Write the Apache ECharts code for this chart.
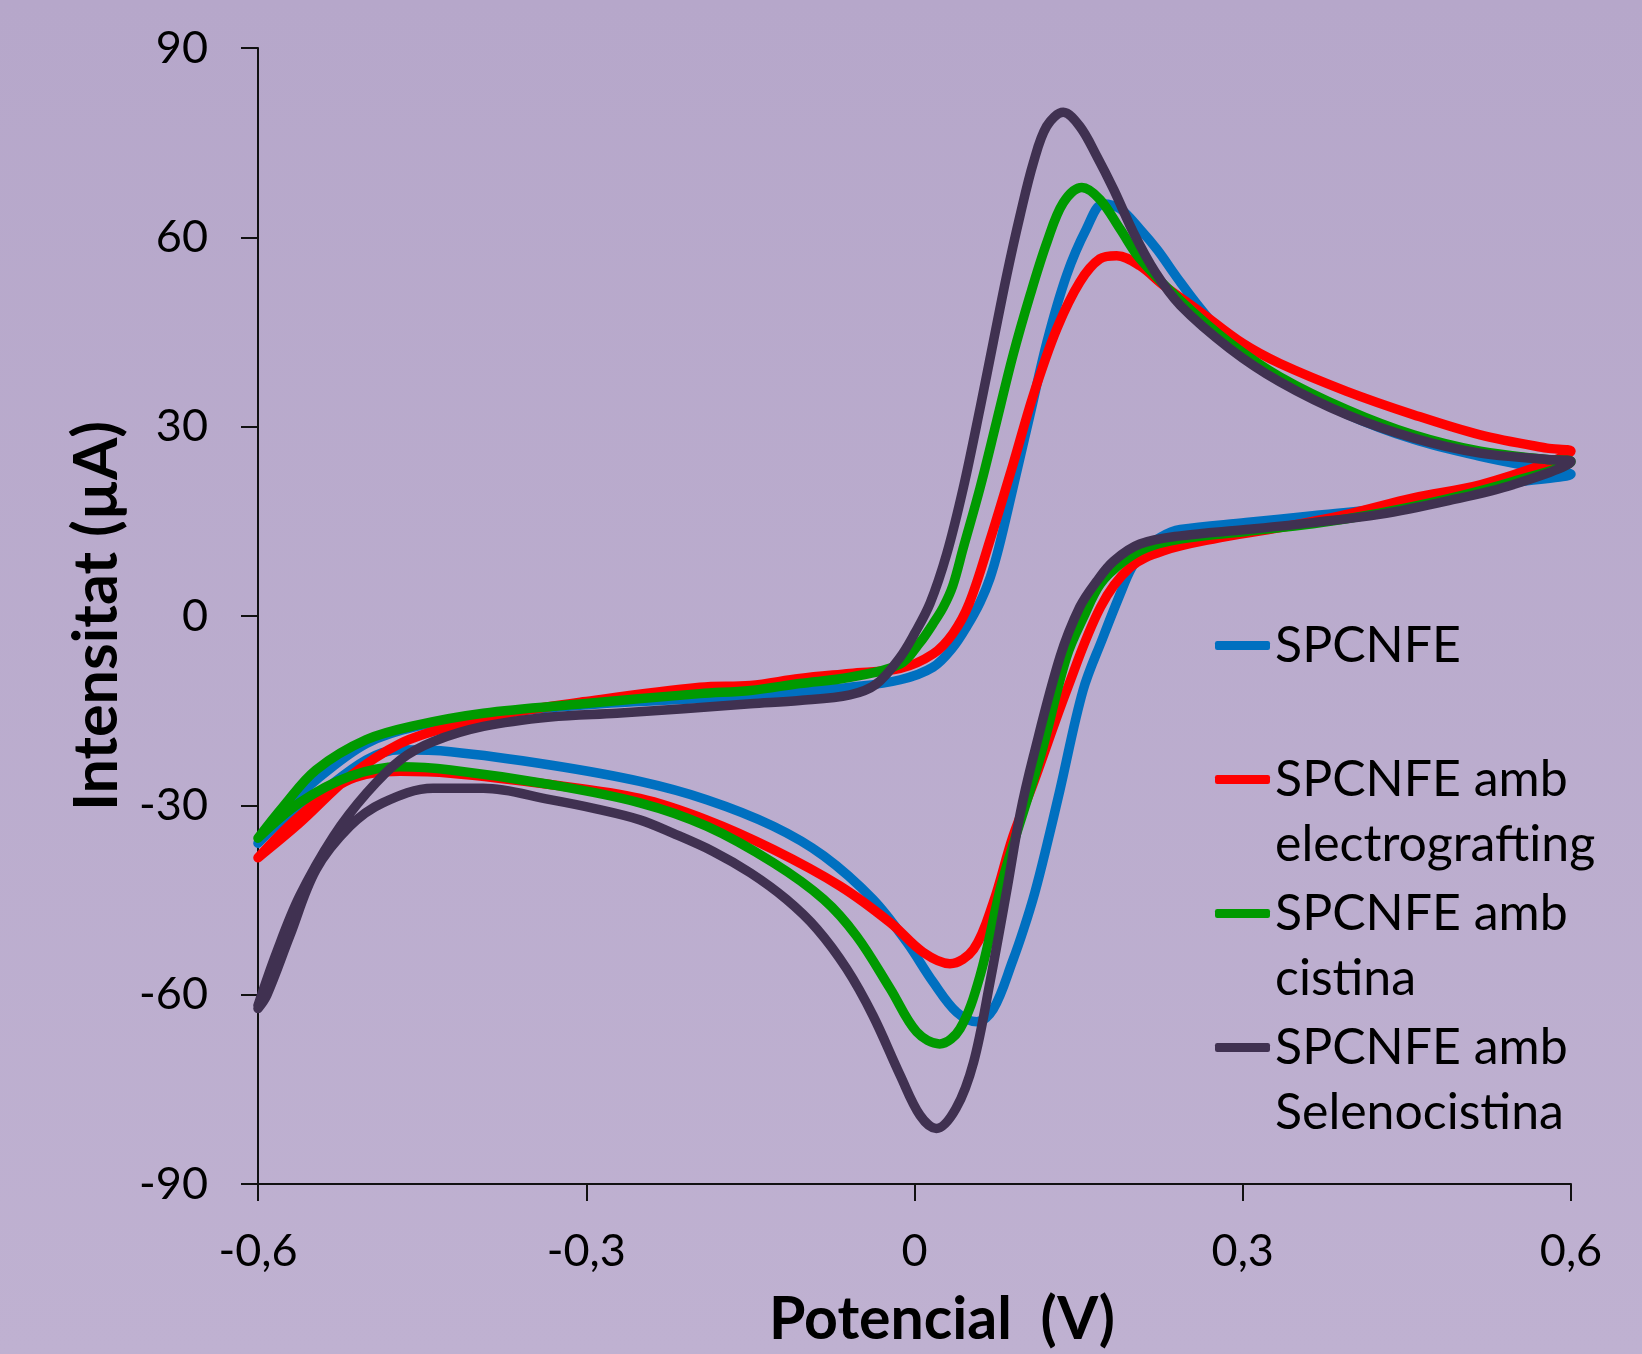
<!DOCTYPE html>
<html><head><meta charset="utf-8">
<script src="https://cdn.jsdelivr.net/npm/echarts@6/dist/echarts.min.js"></script>
<style>html,body{margin:0;padding:0;background:#B8A9CB}#c{width:1642px;height:1354px}</style>
</head><body><div id="c"></div><script>
// Potential (V), current (µA) — loop: forward scan then reverse scan
const seriesNames = ['SPCNFE', 'SPCNFE amb electrografting', 'SPCNFE amb cistina', 'SPCNFE amb Selenocistina'];
const legendLabels = ['\nSPCNFE\n', '\nSPCNFE amb\nelectrografting', '\nSPCNFE amb\ncistina', '\nSPCNFE amb\nSelenocistina'];
const colors = ['#0070C0', '#FF0000', '#009A00', '#403151'];

const spcnfe = [
  [-0.6,-36.0],[-0.577,-31.0],[-0.547,-26.0],[-0.501,-20.2],[-0.455,-17.5],[-0.394,-15.7],[-0.303,-14.1],[-0.2,-13.1],
  [-0.150,-12.8],[-0.105,-12.0],[-0.059,-11.3],[-0.013,-10.1],[0.017,-8.1],[0.035,-5.0],[0.048,-1.6],[0.060,2.2],
  [0.069,6.0],[0.077,10.8],[0.090,20.3],[0.1056,31.9],[0.121,43.4],[0.139,54.0],[0.157,61.3],[0.1725,65.3],[0.188,64.5],
  [0.206,61.3],[0.222,58.0],[0.240,53.6],[0.261,48.8],[0.288,43.5],[0.334,37.5],[0.395,32.0],[0.456,28.0],[0.517,25.3],
  [0.578,23.2],[0.6,22.5],
  [0.547,21.1],[0.486,18.8],[0.425,17.0],[0.364,15.9],[0.303,14.8],[0.243,13.7],[0.225,12.5],[0.210,10.5],[0.198,7.5],
  [0.188,3.5],[0.172,-3.5],[0.154,-11.8],[0.133,-27.5],[0.120,-37.0],[0.110,-43.8],[0.100,-49.5],[0.090,-54.5],
  [0.072,-62.3],[0.057,-64.3],[0.0386,-62.8],[0.017,-58.0],[-0.007,-51.7],[-0.038,-44.9],[-0.083,-38.0],[-0.129,-33.3],
  [-0.190,-29.1],[-0.251,-26.2],[-0.333,-23.6],[-0.424,-21.5],[-0.470,-21.2],[-0.501,-22.8],[-0.547,-28.6],[-0.577,-32.3],
  [-0.6,-36.0]
];
const electrografting = [
  [-0.6,-38.3],[-0.562,-32.8],[-0.516,-25.4],[-0.470,-20.2],[-0.424,-17.5],[-0.364,-15.2],[-0.303,-13.6],[-0.196,-11.3],
  [-0.150,-11.0],[-0.105,-9.9],[-0.059,-9.1],[-0.013,-8.3],[0.017,-6.0],[0.035,-2.8],[0.050,2.0],[0.069,12.0],
  [0.090,24.0],[0.1086,35.0],[0.130,45.5],[0.151,52.9],[0.1695,56.6],[0.1848,57.1],[0.206,55.5],[0.227,52.5],[0.261,48.2],
  [0.300,43.2],[0.334,40.0],[0.395,35.6],[0.456,31.9],[0.517,28.7],[0.578,26.6],[0.6,26.1],
  [0.578,24.2],[0.517,20.8],[0.456,18.7],[0.395,16.1],[0.334,14.0],[0.273,12.2],[0.227,10.3],[0.197,7.7],[0.170,1.4],
  [0.139,-11.8],[0.1086,-26.5],[0.090,-34.9],[0.072,-45.4],[0.054,-52.8],[0.0324,-55.1],[0.008,-53.3],[-0.022,-48.6],
  [-0.068,-42.8],[-0.129,-37.0],[-0.190,-32.3],[-0.251,-28.9],[-0.333,-26.7],[-0.424,-24.9],[-0.470,-24.6],
  [-0.516,-25.9],[-0.562,-31.7],[-0.6,-38.3]
];
const cistina = [
  [-0.6,-35.2],[-0.577,-30.2],[-0.547,-24.4],[-0.501,-19.6],[-0.455,-17.3],[-0.394,-15.4],[-0.303,-13.9],[-0.196,-12.3],
  [-0.150,-11.8],[-0.105,-10.7],[-0.059,-9.7],[-0.013,-7.6],[0.005,-4.2],[0.017,-1.2],[0.0263,1.4],[0.035,4.8],
  [0.0446,10.8],[0.0599,20.3],[0.075,30.8],[0.090,41.3],[0.1056,50.8],[0.121,59.2],[0.136,65.5],[0.153,67.9],
  [0.1695,66.0],[0.188,61.3],[0.206,56.6],[0.243,50.0],[0.288,43.3],[0.334,37.9],[0.395,32.7],[0.456,28.7],[0.517,26.1],
  [0.578,24.8],[0.6,24.5],
  [0.547,21.3],[0.486,18.5],[0.425,16.3],[0.364,14.6],[0.303,13.4],[0.243,12.2],[0.212,10.8],[0.190,8.5],[0.170,5.1],
  [0.155,0.0],[0.139,-6.5],[0.115,-22.3],[0.087,-38.0],[0.078,-43.5],[0.0599,-57.0],[0.0416,-65.4],[0.023,-67.8],
  [0.002,-65.9],[-0.022,-59.1],[-0.053,-50.7],[-0.083,-44.9],[-0.129,-39.1],[-0.190,-33.3],[-0.251,-29.6],[-0.333,-26.7],
  [-0.424,-24.4],[-0.470,-23.9],[-0.516,-25.4],[-0.562,-29.6],[-0.6,-35.2]
];
const selenocistina = [
  [-0.6,-61.7],[-0.583,-53.3],[-0.562,-44.4],[-0.531,-34.9],[-0.501,-28.1],[-0.470,-22.8],[-0.440,-19.9],[-0.394,-17.5],
  [-0.333,-16.0],[-0.272,-15.4],[-0.211,-14.7],[-0.150,-13.9],[-0.105,-13.4],[-0.059,-12.5],[-0.035,-10.8],[-0.013,-6.5],
  [0.000,-2.8],[0.0142,2.0],[0.0294,9.8],[0.0446,20.3],[0.0599,32.9],[0.072,43.4],[0.0843,54.0],[0.0964,63.4],
  [0.1086,71.8],[0.1208,77.6],[0.136,79.8],[0.151,77.6],[0.1665,72.9],[0.182,67.6],[0.200,60.8],[0.220,54.5],[0.243,49.2],
  [0.288,42.4],[0.334,37.1],[0.395,31.9],[0.456,28.2],[0.517,25.8],[0.578,24.8],[0.6,24.5],
  [0.547,20.8],[0.486,18.2],[0.425,16.1],[0.364,14.8],[0.303,13.7],[0.243,12.7],[0.206,11.4],[0.182,8.7],[0.1665,5.5],
  [0.151,1.4],[0.133,-6.5],[0.1086,-22.3],[0.0964,-31.5],[0.084,-43.8],[0.069,-58.0],[0.054,-70.7],[0.038,-78.0],
  [0.020,-81.2],[0.005,-79.1],[-0.013,-72.8],[-0.038,-63.3],[-0.062,-55.9],[-0.089,-49.6],[-0.117,-44.9],[-0.150,-40.7],
  [-0.184,-37.3],[-0.221,-34.4],[-0.251,-32.3],[-0.290,-30.6],[-0.333,-29.1],[-0.394,-27.3],[-0.440,-27.3],
  [-0.486,-29.6],[-0.516,-33.3],[-0.547,-40.2],[-0.571,-50.7],[-0.592,-60.1],[-0.6,-62.2]
];
const allData = [spcnfe, electrografting, cistina, selenocistina];

const chart = echarts.init(document.getElementById('c'), null, {renderer: 'canvas'});
const FONT = 'Lato';
const labelMap = {};
seriesNames.forEach((n, i) => labelMap[n] = legendLabels[i]);

chart.setOption({
  backgroundColor: {
    type: 'linear', x: 0, y: 0, x2: 0, y2: 1,
    colorStops: [{offset: 0, color: '#B6A7CA'}, {offset: 1, color: '#BFB1D1'}]
  },
  animation: false,
  grid: {left: 258, right: 71, top: 48, bottom: 165, containLabel: false},
  xAxis: {
    type: 'value', min: -0.6, max: 0.6, interval: 0.3,
    name: 'Potencial  (V)', nameLocation: 'middle', nameGap: 106,
    nameTextStyle: {fontFamily: FONT, fontWeight: 'bold', fontSize: 59, color: '#000', padding: [0, 0, 0, 55]},
    axisLine: {onZero: false, lineStyle: {color: '#111', width: 2}},
    axisTick: {inside: false, length: 17, lineStyle: {color: '#111', width: 2}},
    axisLabel: {fontFamily: FONT, fontSize: 45, color: '#000', margin: 45,
      formatter: v => (Math.round(v * 10) / 10).toString().replace('.', ',')},
    splitLine: {show: false}
  },
  yAxis: {
    type: 'value', min: -90, max: 90, interval: 30,
    name: 'Intensitat (µA)', nameLocation: 'middle', nameGap: 130, nameRotate: 90,
    nameTextStyle: {fontFamily: FONT, fontWeight: 'bold', fontSize: 61, color: '#000'},
    axisLine: {onZero: false, lineStyle: {color: '#111', width: 2}},
    axisTick: {inside: false, length: 17, lineStyle: {color: '#111', width: 2}},
    axisLabel: {fontFamily: FONT, fontSize: 45, color: '#000', margin: 50},
    splitLine: {show: false}
  },
  legend: {
    orient: 'vertical', left: 1215, top: 548, itemGap: -61, padding: 0,
    itemWidth: 55, itemHeight: 9, icon: 'roundRect',
    formatter: name => labelMap[name],
    textStyle: {fontFamily: FONT, fontSize: 50, lineHeight: 65, color: '#000'},
    data: seriesNames
  },
  series: allData.map((d, i) => ({
    name: seriesNames[i], type: 'line', data: d, smooth: 0.35, showSymbol: false, symbol: 'none',
    color: colors[i],
    lineStyle: {width: 9.5, color: colors[i], cap: 'round', join: 'round'},
    clip: true
  }))
});
</script></body></html>
